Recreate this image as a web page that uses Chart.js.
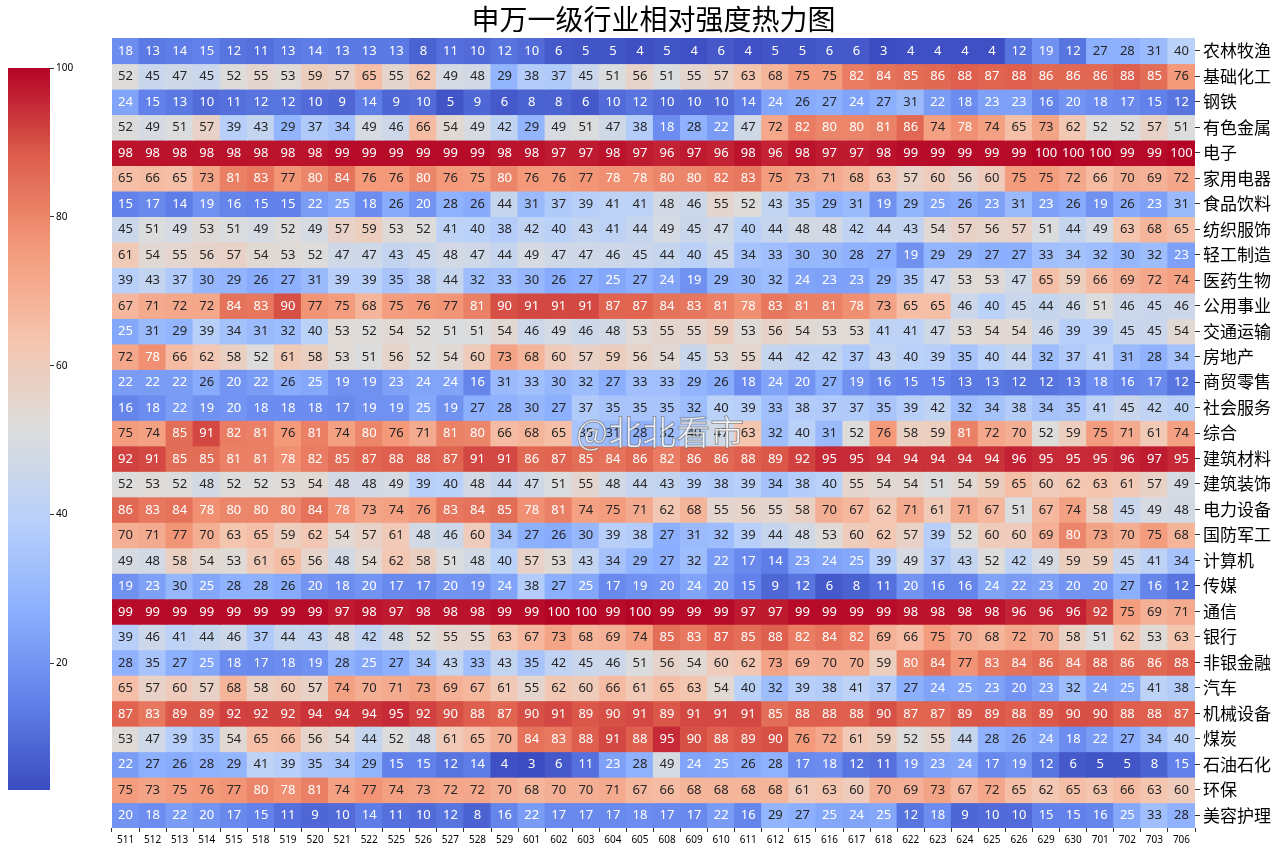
<!DOCTYPE html>
<html>
<head>
<meta charset="utf-8">
<script src="https://cdn.jsdelivr.net/npm/chart.js@4.4.1/dist/chart.umd.min.js"></script>
<style>
  html, body { margin: 0; padding: 0; background: #fff; }
  #wrap { position: relative; width: 1280px; height: 853px; overflow: hidden; }
  #main { position: absolute; left: 0; top: 0; }
  #cbar { position: absolute; left: 0; top: 0; }
  #wm { position: absolute; left: 576px; top: 406px; font: 34px "Noto Sans CJK SC", sans-serif;
        color: rgba(255,255,255,0.8); -webkit-text-stroke: 1px rgba(90,90,90,0.55); pointer-events: none; }
</style>
</head>
<body>
<div id="wrap">
  <canvas id="main" width="1280" height="853"></canvas>
  <canvas id="cbar" width="112" height="853"></canvas>
  <div id="wm">@北北看市</div>
</div>
<script>
// ---------------- DATA ----------------
const title = '申万一级行业相对强度热力图';
const columns = ['511','512','513','514','515','518','519','520','521','522','525','526','527','528','529',
  '601','602','603','604','605','608','609','610','611','612','615','616','617','618','622','623','624',
  '625','626','629','630','701','702','703','706'];
const industries = ['农林牧渔','基础化工','钢铁','有色金属','电子','家用电器','食品饮料','纺织服饰','轻工制造',
  '医药生物','公用事业','交通运输','房地产','商贸零售','社会服务','综合','建筑材料','建筑装饰','电力设备',
  '国防军工','计算机','传媒','通信','银行','非银金融','汽车','机械设备','煤炭','石油石化','环保','美容护理'];

const r01_农林牧渔 = [18,13,14,15,12,11,13,14,13,13,13,8,11, 10,12,10,6,5,5,4,5,4,6,4,5,5,6, 6,3,4,4,4,4,12,19,12,27,28,31,40];
const r02_基础化工 = [52,45,47,45,52,55,53,59,57,65,55,62,49, 48,29,38,37,45,51,56,51,55,57,63,68,75,75, 82,84,85,86,88,87,88,86,86,86,88,85,76];
const r03_钢铁 = [24,15,13,10,11,12,12,10,9,14,9,10,5, 9,6,8,8,6,10,12,10,10,10,14,24,26,27, 24,27,31,22,18,23,23,16,20,18,17,15,12];
const r04_有色金属 = [52,49,51,57,39,43,29,37,34,49,46,66,54, 49,42,29,49,51,47,38,18,28,22,47,72,82,80, 80,81,86,74,78,74,65,73,62,52,52,57,51];
const r05_电子 = [98,98,98,98,98,98,98,98,99,99,99,99,99, 99,98,98,97,97,98,97,96,97,96,98,96,98,97, 97,98,99,99,99,99,99,100,100,100,99,99,100];
const r06_家用电器 = [65,66,65,73,81,83,77,80,84,76,76,80,76, 75,80,76,76,77,78,78,80,80,82,83,75,73,71, 68,63,57,60,56,60,75,75,72,66,70,69,72];
const r07_食品饮料 = [15,17,14,19,16,15,15,22,25,18,26,20,28, 26,44,31,37,39,41,41,48,46,55,52,43,35,29, 31,19,29,25,26,23,31,23,26,19,26,23,31];
const r08_纺织服饰 = [45,51,49,53,51,49,52,49,57,59,53,52,41, 40,38,42,40,43,41,44,49,45,47,40,44,48,48, 42,44,43,54,57,56,57,51,44,49,63,68,65];
const r09_轻工制造 = [61,54,55,56,57,54,53,52,47,47,43,45,48, 47,44,49,47,47,46,45,44,40,45,34,33,30,30, 28,27,19,29,29,27,27,33,34,32,30,32,23];
const r10_医药生物 = [39,43,37,30,29,26,27,31,39,39,35,38,44, 32,33,30,26,27,25,27,24,19,29,30,32,24,23, 23,29,35,47,53,53,47,65,59,66,69,72,74];
const r11_公用事业 = [67,71,72,72,84,83,90,77,75,68,75,76,77, 81,90,91,91,91,87,87,84,83,81,78,83,81,81, 78,73,65,65,46,40,45,44,46,51,46,45,46];
const r12_交通运输 = [25,31,29,39,34,31,32,40,53,52,54,52,51, 51,54,46,49,46,48,53,55,55,59,53,56,54,53, 53,41,41,47,53,54,54,46,39,39,45,45,54];
const r13_房地产 = [72,78,66,62,58,52,61,58,53,51,56,52,54, 60,73,68,60,57,59,56,54,45,53,55,44,42,42, 37,43,40,39,35,40,44,32,37,41,31,28,34];
const r14_商贸零售 = [22,22,22,26,20,22,26,25,19,19,23,24,24, 16,31,33,30,32,27,33,33,29,26,18,24,20,27, 19,16,15,15,13,13,12,12,13,18,16,17,12];
const r15_社会服务 = [16,18,22,19,20,18,18,18,17,19,19,25,19, 27,28,30,27,37,35,35,35,32,40,39,33,38,37, 37,35,39,42,32,34,38,34,35,41,45,42,40];
const r16_综合 = [75,74,85,91,82,81,76,81,74,80,76,71,81, 80,66,68,65,35,31,28,32,40,47,63,32,40,31, 52,76,58,59,81,72,70,52,59,75,71,61,74];
const r17_建筑材料 = [92,91,85,85,81,81,78,82,85,87,88,88,87, 91,91,86,87,85,84,86,82,86,86,88,89,92,95, 95,94,94,94,94,94,96,95,95,95,96,97,95];
const r18_建筑装饰 = [52,53,52,48,52,52,53,54,48,48,49,39,40, 48,44,47,51,55,48,44,43,39,38,39,34,38,40, 55,54,54,51,54,59,65,60,62,63,61,57,49];
const r19_电力设备 = [86,83,84,78,80,80,80,84,78,73,74,76,83, 84,85,78,81,74,75,71,62,68,55,56,55,58,70, 67,62,71,61,71,67,51,67,74,58,45,49,48];
const r20_国防军工 = [70,71,77,70,63,65,59,62,54,57,61,48,46, 60,34,27,26,30,39,38,27,31,32,39,44,48,53, 60,62,57,39,52,60,60,69,80,73,70,75,68];
const r21_计算机 = [49,48,58,54,53,61,65,56,48,54,62,58,51, 48,40,57,53,43,34,29,27,32,22,17,14,23,24, 25,39,49,37,43,52,42,49,59,59,45,41,34];
const r22_传媒 = [19,23,30,25,28,28,26,20,18,20,17,17,20, 19,24,38,27,25,17,19,20,24,20,15,9,12,6, 8,11,20,16,16,24,22,23,20,20,27,16,12];
const r23_通信 = [99,99,99,99,99,99,99,99,97,98,97,98,98, 98,99,99,100,100,99,100,99,99,99,97,97,99,99, 99,99,98,98,98,98,96,96,96,92,75,69,71];
const r24_银行 = [39,46,41,44,46,37,44,43,48,42,48,52,55, 55,63,67,73,68,69,74,85,83,87,85,88,82,84, 82,69,66,75,70,68,72,70,58,51,62,53,63];
const r25_非银金融 = [28,35,27,25,18,17,18,19,28,25,27,34,43, 33,43,35,42,45,46,51,56,54,60,62,73,69,70, 70,59,80,84,77,83,84,86,84,88,86,86,88];
const r26_汽车 = [65,57,60,57,68,58,60,57,74,70,71,73,69, 67,61,55,62,60,66,61,65,63,54,40,32,39,38, 41,37,27,24,25,23,20,23,32,24,25,41,38];
const r27_机械设备 = [87,83,89,89,92,92,92,94,94,94,95,92,90, 88,87,90,91,89,90,91,89,91,91,91,85,88,88, 88,90,87,87,89,89,88,89,90,90,88,88,87];
const r28_煤炭 = [53,47,39,35,54,65,66,56,54,44,52,48,61, 65,70,84,83,88,91,88,95,90,88,89,90,76,72, 61,59,52,55,44,28,26,24,18,22,27,34,40];
const r29_石油石化 = [22,27,26,28,29,41,39,35,34,29,15,15,12, 14,4,3,6,11,23,28,49,24,25,26,28,17,18, 12,11,19,23,24,17,19,12,6,5,5,8,15];
const r30_环保 = [75,73,75,76,77,80,78,81,74,77,74,73,72, 72,70,68,70,70,71,67,66,68,68,68,68,61,63, 60,70,69,73,67,72,65,62,65,63,66,63,60];
const r31_美容护理 = [20,18,22,20,17,15,11,9,10,14,11,10,12, 8,16,22,17,17,17,18,17,17,22,16,29,27,25, 24,25,12,18,9,10,10,15,15,16,25,33,28];

const rowValues = [r01_农林牧渔,r02_基础化工,r03_钢铁,r04_有色金属,r05_电子,r06_家用电器,r07_食品饮料,r08_纺织服饰,
  r09_轻工制造,r10_医药生物,r11_公用事业,r12_交通运输,r13_房地产,r14_商贸零售,r15_社会服务,r16_综合,r17_建筑材料,
  r18_建筑装饰,r19_电力设备,r20_国防军工,r21_计算机,r22_传媒,r23_通信,r24_银行,r25_非银金融,r26_汽车,r27_机械设备,
  r28_煤炭,r29_石油石化,r30_环保,r31_美容护理];

const colorMin = 3, colorMax = 100;
const colorbarTicks = [20, 40, 60, 80, 100];

// ---------------- STYLE ----------------
const coolwarmStops = [[59,76,192],[98,130,234],[141,176,254],[184,208,249],[221,221,221],
  [245,196,173],[244,154,123],[222,96,77],[180,4,38]];
function coolwarm(t) {
  t = Math.max(0, Math.min(1, t));
  const p = t * (coolwarmStops.length - 1);
  const i = Math.min(Math.floor(p), coolwarmStops.length - 2);
  const f = p - i, a = coolwarmStops[i], b = coolwarmStops[i + 1];
  const c = a.map((x, k) => Math.round(x + (b[k] - x) * f));
  return `rgb(${c[0]},${c[1]},${c[2]})`;
}
const cellColor = v => coolwarm((v - colorMin) / (colorMax - colorMin));
const textColor = v => (v <= 25 || v >= 78) ? '#ffffff' : '#262626';
const cjk = '"Noto Sans CJK SC", "Noto Sans", sans-serif';

const annotate = {
  id: 'annotate',
  afterDatasetsDraw(chart) {
    const c = chart.ctx;
    c.save();
    c.font = '13px "Noto Sans", sans-serif';
    c.textAlign = 'center';
    c.textBaseline = 'middle';
    chart.data.datasets.forEach((ds, di) => {
      chart.getDatasetMeta(di).data.forEach((el, j) => {
        const v = ds.values[j];
        c.fillStyle = textColor(v);
        c.fillText(String(v), el.x, (el.y + el.base) / 2 + 0.5);
      });
    });
    c.restore();
  }
};

new Chart(document.getElementById('main'), {
  type: 'bar',
  data: {
    labels: columns,
    datasets: rowValues.map((vals, i) => ({
      label: industries[i],
      data: vals.map(() => 1),
      values: vals,
      backgroundColor: vals.map(cellColor),
      borderWidth: 0,
      barPercentage: 1,
      categoryPercentage: 1,
      inflateAmount: 0.6
    }))
  },
  options: {
    responsive: false,
    animation: false,
    layout: { padding: { left: 112, right: 0, top: 0, bottom: 0 } },
    plugins: {
      legend: { display: false },
      tooltip: { enabled: false },
      title: {
        display: true, text: title, fullSize: false, color: '#000',
        font: { family: cjk, size: 28, weight: 'normal', lineHeight: 1.2 },
        padding: { top: 3, bottom: 1.4 }
      }
    },
    scales: {
      x: {
        stacked: true,
        grid: { drawOnChartArea: false, drawTicks: true, tickLength: 4, color: '#333' },
        border: { display: false },
        ticks: { font: { family: '"Noto Sans", sans-serif', size: 10 }, color: '#000', maxRotation: 0, autoSkip: false, padding: 2 },
        afterFit(s) { s.height = 25; }
      },
      y: {
        stacked: true, position: 'right', reverse: true, min: 0, max: industries.length,
        afterBuildTicks(s) { s.ticks = industries.map((_, i) => ({ value: i + 0.5 })); },
        ticks: { callback: v => industries[Math.floor(v)], font: { family: cjk, size: 17 }, color: '#000', padding: 3, autoSkip: false },
        grid: { drawOnChartArea: false, drawTicks: true, tickLength: 5, color: '#333' },
        border: { display: false },
        afterFit(s) { s.width = 85; }
      }
    }
  },
  plugins: [annotate]
});

new Chart(document.getElementById('cbar'), {
  type: 'bar',
  data: {
    labels: [''],
    datasets: [{
      data: [[colorMin, colorMax]],
      barPercentage: 1, categoryPercentage: 1, borderWidth: 0,
      backgroundColor(ctx) {
        const a = ctx.chart.chartArea;
        if (!a) return '#ccc';
        const g = ctx.chart.ctx.createLinearGradient(0, a.bottom, 0, a.top);
        coolwarmStops.forEach((s, k) => g.addColorStop(k / (coolwarmStops.length - 1), `rgb(${s[0]},${s[1]},${s[2]})`));
        return g;
      }
    }]
  },
  options: {
    responsive: false,
    animation: false,
    layout: { padding: { left: 8, top: 68, bottom: 63, right: 0 } },
    plugins: { legend: { display: false }, tooltip: { enabled: false } },
    scales: {
      x: { display: false },
      y: {
        position: 'right', min: colorMin, max: colorMax,
        afterBuildTicks(s) { s.ticks = colorbarTicks.map(v => ({ value: v })); },
        ticks: { font: { family: '"Noto Sans", sans-serif', size: 10 }, color: '#000', padding: 2 },
        grid: { drawOnChartArea: false, drawTicks: true, tickLength: 4, color: '#333' },
        border: { display: false },
        afterFit(s) { s.width = 62; }
      }
    }
  }
});
</script>
</body>
</html>
